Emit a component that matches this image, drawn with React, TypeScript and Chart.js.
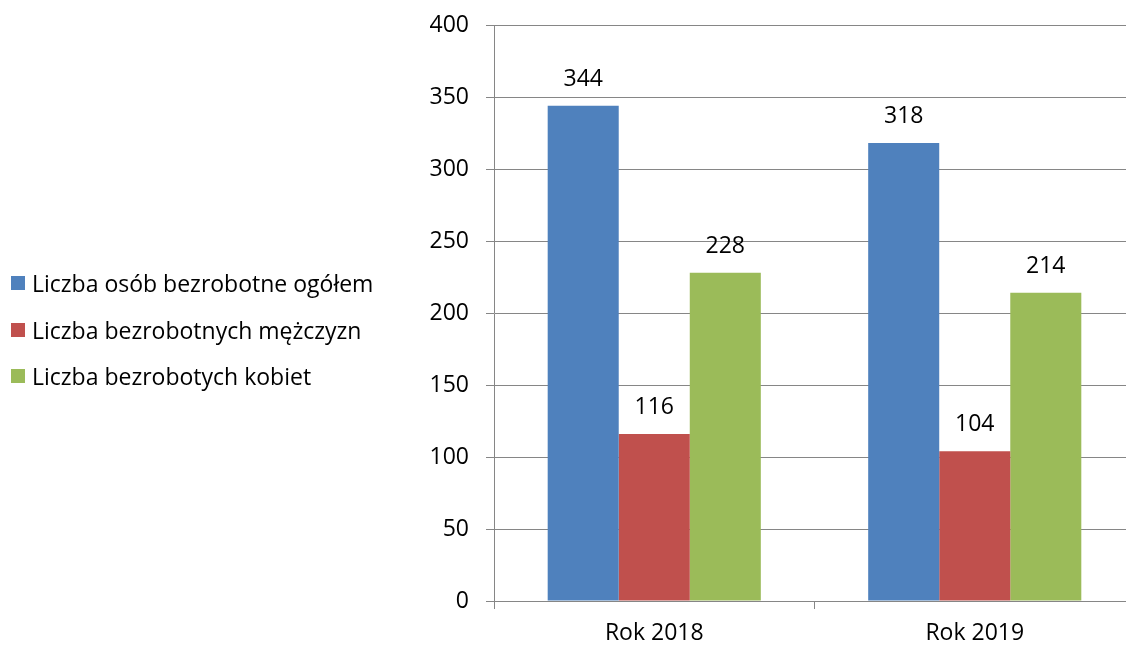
import React, { useEffect, useRef } from 'react';
import { Chart, registerables } from 'chart.js';

Chart.register(...registerables);

const categories = ['Rok 2018', 'Rok 2019'];
const seriesNames = [
  'Liczba osób bezrobotne ogółem',
  'Liczba bezrobotnych mężczyzn',
  'Liczba bezrobotych kobiet',
];
const totalValues = [344, 318];
const menValues = [116, 104];
const womenValues = [228, 214];
const seriesColors = ['#4F81BD', '#C0504D', '#9BBB59'];
const yMin = 0;
const yMax = 400;
const yStep = 50;

const FONT = '"Open Sans"';
const FONT_SIZE = 23;
const GRID = '#868686';

const valueLabels = {
  id: 'valueLabels',
  afterDatasetsDraw(chart: any) {
    const ctx = chart.ctx;
    ctx.save();
    ctx.font = `${FONT_SIZE}px ${FONT}`;
    ctx.fillStyle = '#000';
    ctx.textAlign = 'center';
    ctx.textBaseline = 'middle';
    chart.data.datasets.forEach((ds: any, i: number) => {
      const meta = chart.getDatasetMeta(i);
      meta.data.forEach((el: any, j: number) => {
        ctx.fillText(String(ds.data[j]), el.x, el.y - 26.5);
      });
    });
    ctx.restore();
  },
};

const sideLegend = {
  id: 'sideLegend',
  afterDraw(chart: any) {
    const ctx = chart.ctx;
    ctx.save();
    ctx.font = `${FONT_SIZE}px ${FONT}`;
    ctx.textBaseline = 'middle';
    ctx.textAlign = 'left';
    const startY = 285;
    const gap = 46.5;
    chart.data.datasets.forEach((ds: any, i: number) => {
      const y = Math.round(startY + i * gap);
      ctx.fillStyle = ds.backgroundColor;
      ctx.fillRect(11, y - 9, 14, 14);
      ctx.fillStyle = '#000';
      ctx.fillText(ds.label, 32, y);
    });
    ctx.restore();
  },
};

export default function App() {
  const ref = useRef<HTMLCanvasElement>(null);
  useEffect(() => {
    if (!ref.current) return;
    const chart = new Chart(ref.current, {
      type: 'bar',
      data: {
        labels: categories,
        datasets: [
          { label: seriesNames[0], data: totalValues, backgroundColor: seriesColors[0] },
          { label: seriesNames[1], data: menValues, backgroundColor: seriesColors[1] },
          { label: seriesNames[2], data: womenValues, backgroundColor: seriesColors[2] },
        ],
      },
      options: {
        responsive: false,
        animation: false,
        layout: { padding: { top: 25, right: 1, bottom: 0, left: 0 } },
        datasets: { bar: { categoryPercentage: 0.665, barPercentage: 1 } },
        plugins: { legend: { display: false }, tooltip: { enabled: false } },
        scales: {
          x: {
            grid: { display: true, drawOnChartArea: false, color: GRID, tickLength: 8, offset: true },
            border: { display: true, color: GRID, width: 1 },
            ticks: { color: '#000', font: { family: FONT, size: FONT_SIZE }, padding: 11 },
            afterFit(scale: any) { scale.height = 45; scale.paddingLeft = 0; scale.paddingRight = 0; },
          },
          y: {
            min: yMin,
            max: yMax,
            ticks: { stepSize: yStep, color: '#000', font: { family: FONT, size: FONT_SIZE }, padding: 17 },
            grid: { color: GRID, tickLength: 8 },
            border: { display: true, color: GRID, width: 1 },
            afterFit(scale: any) { scale.width = 494; scale.paddingTop = 0; scale.paddingBottom = 0; },
          },
        },
      },
      plugins: [valueLabels, sideLegend],
    });
    return () => chart.destroy();
  }, []);
  return (
    <div style={{ position: 'fixed', left: 0, top: 0, width: 1126, height: 646, overflow: 'hidden', background: '#fff' }}>
      <canvas ref={ref} width={1136} height={646} style={{ display: 'block' }} />
    </div>
  );
}
